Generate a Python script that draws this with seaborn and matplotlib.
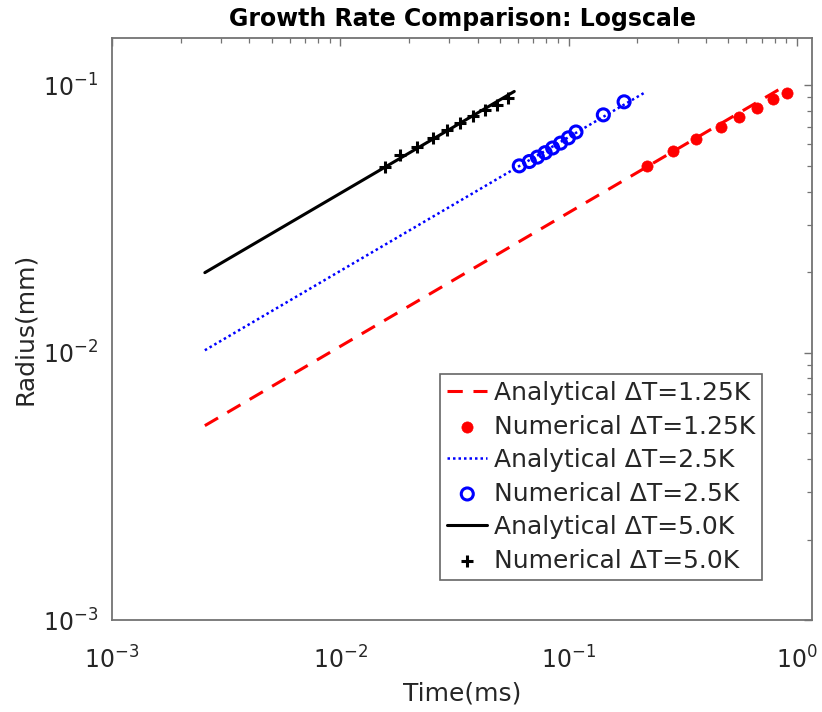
import matplotlib
matplotlib.use("Agg")
import matplotlib.pyplot as plt
import seaborn as sns
from matplotlib.ticker import LogLocator, NullFormatter

# ---- data (Time in ms, Radius in mm) ----
# analytical curves (straight lines on log-log axes: two end points each)
ana_t_125 = [0.00255, 0.900]
ana_r_125 = [0.00533, 0.1000]
ana_t_25 = [0.00255, 0.215]
ana_r_25 = [0.0102, 0.0937]
ana_t_50 = [0.00255, 0.0578]
ana_r_50 = [0.0199, 0.0947]

# numerical points
num_t_125 = [0.2198, 0.2877, 0.3614, 0.4634, 0.5598, 0.6668, 0.7834, 0.9016]
num_r_125 = [0.0497, 0.0568, 0.0628, 0.0698, 0.0761, 0.0822, 0.0884, 0.0931]
num_t_25 = [0.0608, 0.0673, 0.0730, 0.0789, 0.0851, 0.0922, 0.0998, 0.1077, 0.1419, 0.1750]
num_r_25 = [0.0499, 0.0518, 0.0538, 0.0559, 0.0582, 0.0607, 0.0635, 0.0668, 0.0774, 0.0866]
num_t_50 = [0.0157, 0.0183, 0.0217, 0.0255, 0.0293, 0.0334, 0.0381, 0.0430, 0.0485, 0.0543]
num_r_50 = [0.0493, 0.0547, 0.0586, 0.0633, 0.0678, 0.0721, 0.0765, 0.0806, 0.0841, 0.0894]

labels = ["Analytical ΔT=1.25K", "Numerical ΔT=1.25K",
          "Analytical ΔT=2.5K", "Numerical ΔT=2.5K",
          "Analytical ΔT=5.0K", "Numerical ΔT=5.0K"]
x_ticks = [1e-3, 1e-2, 1e-1, 1e0]
y_ticks = [1e-3, 1e-2, 1e-1]

sns.set_theme(style="white")
plt.rcParams["font.family"] = ["DejaVu Sans"]
plt.rcParams["mathtext.fontset"] = "dejavusans"

fig = plt.figure(figsize=(8.22, 7.12), dpi=100)
ax = fig.add_axes([0.1363, 0.1292, 0.8515, 0.8174])
ax.set_xscale("log")
ax.set_yscale("log")

sns.lineplot(x=ana_t_125, y=ana_r_125, ax=ax, color="red", linestyle=(0, (5.0, 3.5)),
             linewidth=2.2, label=labels[0])
sns.scatterplot(x=num_t_125, y=num_r_125, ax=ax, marker="o", color="red",
                edgecolor="red", s=65, linewidth=0.5, label=labels[1])
sns.lineplot(x=ana_t_25, y=ana_r_25, ax=ax, color="blue", linestyle=(0, (1, 1.2)),
             linewidth=1.8, label=labels[2])
sns.scatterplot(x=num_t_25, y=num_r_25, ax=ax, marker="o", color="blue",
                facecolor="none", edgecolor="blue", s=75, linewidth=2.2, label=labels[3])
sns.lineplot(x=ana_t_50, y=ana_r_50, ax=ax, color="black", linestyle="-",
             linewidth=2.2, label=labels[4])
sns.scatterplot(x=num_t_50, y=num_r_50, ax=ax, marker="+", color="black",
                s=80, linewidth=2.2, label=labels[5])

ax.set_xlim(1e-3, 1.164)
ax.set_ylim(1e-3, 0.15)
ax.set_xticks(x_ticks)
ax.set_yticks(y_ticks)
ax.xaxis.set_minor_locator(LogLocator(base=10, subs=range(2, 10), numticks=20))
ax.yaxis.set_minor_locator(LogLocator(base=10, subs=range(2, 10), numticks=20))
ax.xaxis.set_minor_formatter(NullFormatter())
ax.yaxis.set_minor_formatter(NullFormatter())

axis_col = "0.45"
for sp in ax.spines.values():
    sp.set_visible(True)
    sp.set_color(axis_col)
    sp.set_linewidth(1.3)
ax.tick_params(which="both", direction="in", top=True, right=True, color=axis_col,
               labelcolor="0.15")
ax.tick_params(which="major", length=6, width=1.0, labelsize=17)
ax.tick_params(axis="x", which="major", pad=19)
ax.tick_params(axis="y", which="major", pad=10)
ax.tick_params(which="minor", length=3.5, width=0.9)

ax.set_xlabel("Time(ms)", fontsize=18, color="0.15", labelpad=6)
ax.set_ylabel("Radius(mm)", fontsize=18, color="0.15", labelpad=4)
ax.set_title("Growth Rate Comparison: Logscale", fontsize=17, fontweight="bold",
             color="black", pad=9)
ax.grid(False)

handles, labs = ax.get_legend_handles_labels()
hmap = dict(zip(labs, handles))
leg = ax.legend([hmap[l] for l in labels], labels, loc="lower right",
                bbox_to_anchor=(0.929, 0.0687), borderaxespad=0, fontsize=18,
                frameon=True, fancybox=False, edgecolor="0.4", framealpha=1,
                handlelength=1.6, handletextpad=0.25, labelspacing=0.38,
                borderpad=0.3, markerscale=1.0)
leg.get_frame().set_linewidth(1.2)
for t in leg.get_texts():
    t.set_color("0.15")

fig.savefig("out.png", dpi=100)
